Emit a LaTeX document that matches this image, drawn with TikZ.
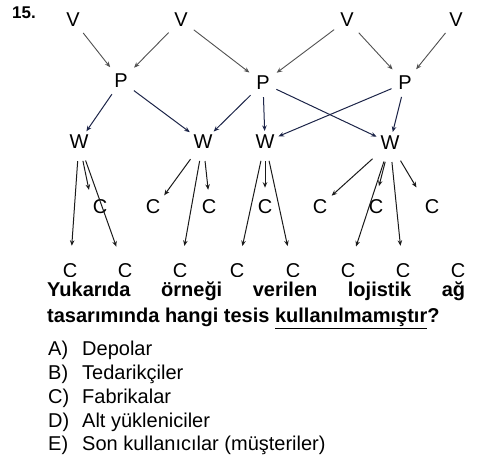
\documentclass[tikz,border=0pt]{standalone}
\usepackage{fontspec}
\setmainfont{Liberation Sans}
\usetikzlibrary{arrows.meta}
\definecolor{vpcol}{HTML}{505050}
\definecolor{pwcol}{HTML}{1C2448}
\definecolor{wccol}{HTML}{1A1A1A}
\begin{document}
\begin{tikzpicture}[x=1pt,y=-1pt,
  lbl/.style={font=\fontsize{20}{24}\selectfont, inner sep=2pt},
  vp/.style={draw=vpcol, line width=0.9pt, -{Stealth[length=5.5pt,width=4.5pt]}, shorten <=5pt, shorten >=6pt},
  pw/.style={draw=pwcol, line width=1pt, -{Stealth[length=5.5pt,width=4.5pt]}, shorten <=5pt, shorten >=2pt},
  wc/.style={draw=wccol, line width=1pt, -{Stealth[length=5.5pt,width=4.5pt]}, shorten <=10pt, shorten >=16pt},
  wm/.style={draw=wccol, line width=1pt, -{Stealth[length=5.5pt,width=4.5pt]}, shorten <=10pt},
  opt/.style={anchor=base west, inner sep=0pt, font=\fontsize{20}{24}\selectfont}
]
\useasboundingbox (0,0) rectangle (500,457);
% number
\node[anchor=base west, inner sep=0pt, font=\fontsize{17}{20}\selectfont\bfseries] (num) at (12,19) {15.};
% V
\node[lbl] (v1) at (73,20) {V};
\node[lbl] (v2) at (181,20) {V};
\node[lbl] (v3) at (347,20) {V};
\node[lbl] (v4) at (456,20) {V};
% P
\node[lbl] (p1) at (121,81) {P};
\node[lbl] (p2) at (263,83) {P};
\node[lbl] (p3) at (405,83) {P};
% W
\node[lbl] (w1) at (79,142) {W};
\node[lbl] (w2) at (203,142) {W};
\node[lbl] (w3) at (265,142) {W};
\node[lbl] (w4) at (390,143) {W};
% C middle
\node[lbl] (cm1) at (100,207) {C};
\node[lbl] (cm2) at (153,207) {C};
\node[lbl] (cm3) at (209,207) {C};
\node[lbl] (cm4) at (265,207) {C};
\node[lbl] (cm5) at (320,207) {C};
\node[lbl] (cm6) at (376,207) {C};
\node[lbl] (cm7) at (432,207) {C};
% C bottom
\node[lbl] (cb1) at (70,271) {C};
\node[lbl] (cb2) at (125,271) {C};
\node[lbl] (cb3) at (180,271) {C};
\node[lbl] (cb4) at (237,271) {C};
\node[lbl] (cb5) at (293,271) {C};
\node[lbl] (cb6) at (348,271) {C};
\node[lbl] (cb7) at (403,271) {C};
\node[lbl] (cb8) at (458,271) {C};
% V -> P
\draw[vp] (v1) -- (p1);
\draw[vp] (v2) -- (p1);
\draw[vp] (v2) -- (p2);
\draw[vp] (v3) -- (p2);
\draw[vp] (v3) -- (p3);
\draw[vp] (v4) -- (p3);
% P -> W
\draw[pw] (p1) -- (w1);
\draw[pw] (p1) -- (w2);
\draw[pw] (p2) -- (w2);
\draw[pw] (p2) -- (w3);
\draw[pw] (p2) -- (w4);
\draw[pw] (p3) -- (w3);
\draw[pw] (p3) -- (w4);
% W -> C
\draw[wc] (w1) -- (cb1);
\draw[wm, shorten >=8pt] (w1) -- (cm1.north west);
\draw[wc] (w1) -- (cb2);
\draw[wm, shorten >=3pt] (w2) -- (cm2.north east);
\draw[wc] (w2) -- (cb3);
\draw[wm, shorten >=8pt] (w2) -- (cm3.north);
\draw[wc] (w3) -- (cb4);
\draw[wm, shorten >=10pt] (w3) -- (cm4.north);
\draw[wc] (w3) -- (cb5);
\draw[wm, shorten >=3pt] (w4) -- (cm5.north east);
\draw[wc] (w4) -- (cb6);
\draw[wm, shorten >=12pt] (w4) -- (cm6.north);
\draw[wc] (w4) -- (cb7);
\draw[wm, shorten >=12pt] (w4) -- (cm7.north west);
% question (white box partly covering the last row, as in the reference)
\node[anchor=north west, inner xsep=0pt, inner ysep=5pt, fill=white, text width=418pt, align=justify,
      font=\fontsize{20}{26}\selectfont\bfseries] (q) at (47,277)
  {Yukarıda örneği verilen lojistik ağ\linebreak tasarımında hangi tesis \underline{kullanılmamıştır}?};
% options
\node[opt] (oa) at (48,355) {\makebox[34pt][l]{A)}Depolar};
\node[opt] (ob) at (48,379) {\makebox[34pt][l]{B)}Tedarikçiler};
\node[opt] (oc) at (48,403) {\makebox[34pt][l]{C)}Fabrikalar};
\node[opt] (od) at (48,427) {\makebox[34pt][l]{D)}Alt yükleniciler};
\node[opt] (oe) at (48,450) {\makebox[34pt][l]{E)}Son kullanıcılar (müşteriler)};
\end{tikzpicture}
\end{document}
